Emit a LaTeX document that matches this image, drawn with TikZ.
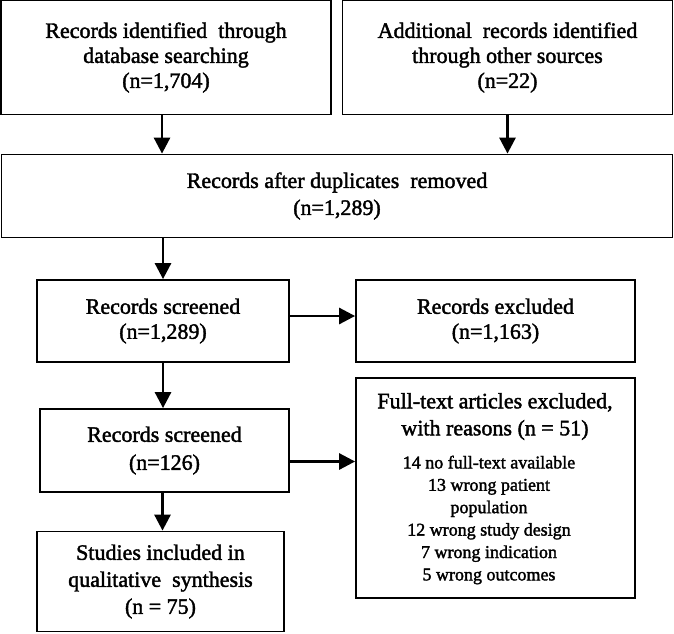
\documentclass[tikz,border=0pt]{standalone}
\usepackage{fontspec}
\setmainfont{Liberation Serif}[FakeBold=1.8]
\usetikzlibrary{arrows.meta}
\begin{document}
\begin{tikzpicture}[x=1pt,y=-1pt,
  box/.style={draw,line width=1.8pt,align=center,inner sep=0pt,
    font=\fontsize{22}{25}\selectfont,
    execute at begin node={\rule{0pt}{21.5pt}}},
  txt/.style={align=center,inner sep=0pt},
  arr/.style={-{Triangle[length=16pt,width=16pt]},line width=2.8pt}]
\fill[white] (0,0) rectangle (674,633);
\useasboundingbox (0,0) rectangle (674,633);
\node[box,minimum width=330pt,minimum height=114pt] (A) at (166,57.5)
  {Records identified\ \ through\\database searching\\(n=1,704)};
\node[box,minimum width=330pt,minimum height=114pt] (B) at (507.5,57.5)
  {Additional\ \ records identified\\through other sources\\(n=22)};
\node[box,minimum width=671pt,minimum height=83pt,font=\fontsize{22}{27}\selectfont] (C) at (337,196)
  {Records after duplicates\ \ removed\\(n=1,289)};
\node[box,minimum width=252pt,minimum height=82pt] (D) at (163,321)
  {Records screened\\(n=1,289)};
\node[box,minimum width=279pt,minimum height=82pt] (E) at (495.5,321)
  {Records excluded\\(n=1,163)};
\node[box,minimum width=249pt,minimum height=83pt,font=\fontsize{22}{28}\selectfont] (F) at (164.5,450.5)
  {Records screened\\(n=126)};
\node[box,minimum width=279pt,minimum height=220pt] (G) at (495.5,488) {};
\node[txt,font=\fontsize{22}{27}\selectfont] (Gh) at (495,416.5)
  {Full-text articles excluded,\\with reasons (n = 51)};
\node[txt,font=\fontsize{18}{22.4}\selectfont] (Gl) at (489,520)
  {14 no full-text available\\13 wrong patient\\population\\12 wrong study design\\7 wrong indication\\5 wrong outcomes};
\node[box,minimum width=247pt,minimum height=100pt,font=\fontsize{22}{27}\selectfont] (H) at (160.5,581.5)
  {Studies included in\\qualitative\ \ synthesis\\(n = 75)};
\draw[arr] ([xshift=-4pt]A.south) -- ([xshift=-4pt]A.south |- C.north);
\draw[arr] (B.south) -- (B.south |- C.north);
\draw[arr] (D.north |- C.south) -- (D.north);
\draw[arr] ([yshift=5pt]D.east) -- ([yshift=5pt]D.east -| E.west);
\draw[arr] (D.south) -- (D.south |- F.north);
\draw[arr] ([yshift=-11pt]F.east) -- ([yshift=-11pt]F.east -| G.west);
\draw[arr] ([xshift=-2pt]F.south) -- ([xshift=-2pt]F.south |- H.north);
\end{tikzpicture}
\end{document}
